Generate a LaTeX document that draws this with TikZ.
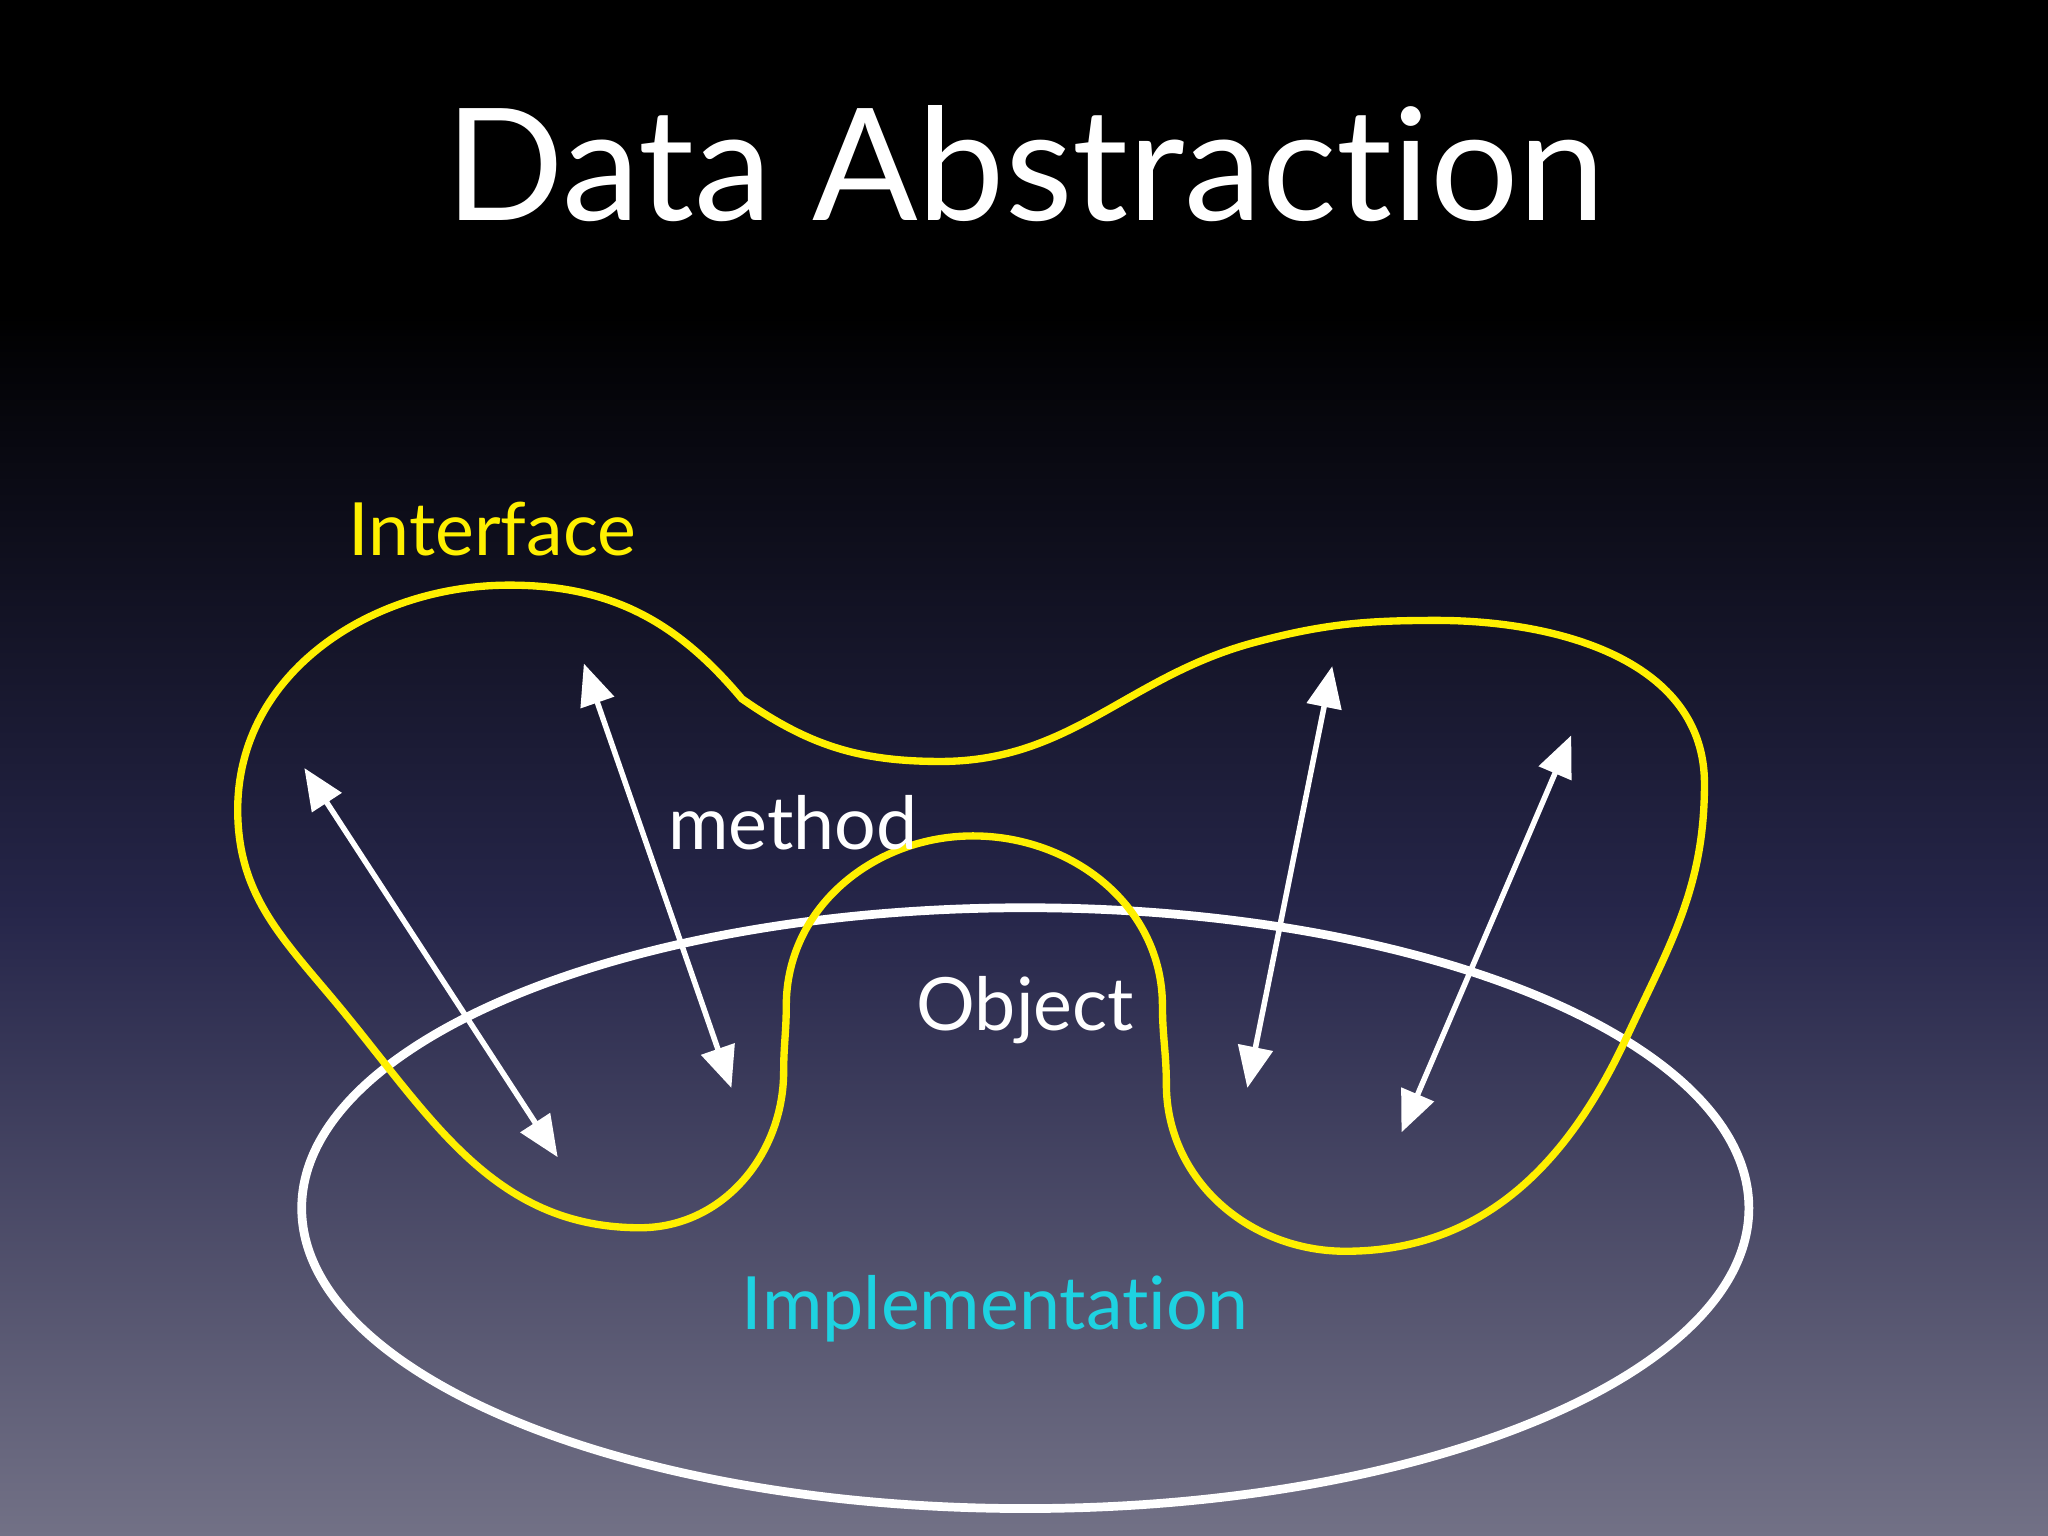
\documentclass[tikz,border=0pt]{standalone}
\usepackage{fontspec}
\setmainfont{Lato}[RawFeature={-liga;-dlig}]
\usetikzlibrary{arrows.meta}
\definecolor{bgmid}{RGB}{38,38,74}
\definecolor{bgbot}{RGB}{114,113,134}
\definecolor{ylw}{RGB}{255,240,0}
\definecolor{cyn}{RGB}{30,210,225}
\tikzset{
  arr/.style={white,line width=1.2pt,{Triangle[length=9pt,width=7.5pt]}-{Triangle[length=9pt,width=7.5pt]}},
  lbl/.style={font=\fontsize{16}{18}\selectfont, inner sep=0pt}
}
\begin{document}
\begin{tikzpicture}[x=0.01cm,y=0.01cm]
\useasboundingbox (0,0) rectangle (1568,-1176);
\fill[black] (0,0) rectangle (1568,-240);
\shade[top color=black,bottom color=bgmid] (0,-239) rectangle (1568,-700);
\shade[top color=bgmid,bottom color=bgbot] (0,-699) rectangle (1568,-1176);
\node[white,inner sep=0pt,font=\fontsize{34}{40}\selectfont] (title) at (785,-125) {Data Abstraction};
% implementation ellipse
\draw[white,line width=1.9pt] (785,-925) ellipse [x radius=554, y radius=230];
% interface blob
\draw[ylw,line width=1.6pt] (568,-535) to[out=130,in=0] (390,-448)
  to[out=180,in=90] (182,-620)
  to[out=-90,in=130] (255,-765)
  to[out=-50,in=180] (490,-940)
  to[out=0,in=-90] (600,-820)
  to[out=90,in=-90] (602,-770)
  to[out=90,in=180] (745,-640)
  to[out=0,in=90] (890,-770)
  to[out=-90,in=90] (893,-830)
  to[out=-90,in=180] (1030,-958)
  to[out=0,in=-115] (1245,-795)
  to[out=65,in=-90] (1305,-600)
  to[out=90,in=0] (1100,-475)
  to[out=180,in=15] (960,-492)
  to[out=195,in=0] (720,-583)
  to[out=180,in=-35] cycle;
\node[ylw,lbl] (iface) at (377,-405) {Interface};
\node[white,lbl] (meth) at (607,-630) {method};
\node[white,lbl] (obj) at (785,-773) {Object};
\node[cyn,lbl] (impl) at (762,-1002) {Implementation};
\coordinate (a1) at (233,-588); \coordinate (b1) at (427,-886);
\coordinate (a2) at (447,-508); \coordinate (b2) at (560,-833);
\coordinate (a3) at (1020,-510); \coordinate (b3) at (955,-833);
\coordinate (a4) at (1203,-563); \coordinate (b4) at (1073,-867);
\draw[arr] (a1) -- (b1);
\draw[arr] (a2) -- (b2);
\draw[arr] (a3) -- (b3);
\draw[arr] (a4) -- (b4);
\end{tikzpicture}
\end{document}
